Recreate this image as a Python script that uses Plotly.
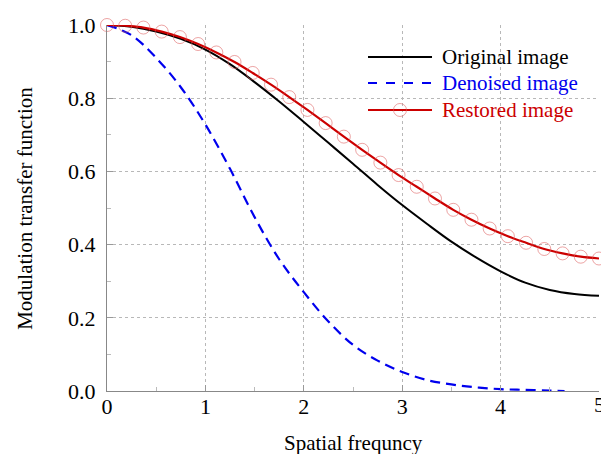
import plotly.graph_objects as go

# ---- data ----
x_grid = [0, 0.25, 0.5, 0.75, 1.0, 1.25, 1.5, 1.75, 2.0, 2.25, 2.5, 2.75,
          3.0, 3.25, 3.5, 3.75, 4.0, 4.25, 4.5, 4.75, 5.0]
original = [1.0, 0.995, 0.982, 0.962, 0.933, 0.893, 0.844, 0.791, 0.735, 0.678,
            0.621, 0.563, 0.508, 0.457, 0.408, 0.365, 0.327, 0.296, 0.276, 0.265, 0.26]

x_denoised = [0, 0.25, 0.5, 0.75, 1.0, 1.25, 1.5, 1.75, 2.0, 2.25, 2.5, 2.75,
              3.0, 3.25, 3.5, 3.75, 4.0, 4.25, 4.5, 4.65]
denoised = [1.0, 0.972, 0.91, 0.83, 0.728, 0.607, 0.475, 0.36, 0.27, 0.19,
            0.126, 0.083, 0.052, 0.03, 0.018, 0.01, 0.005, 0.003, 0.001, 0.0]

x_restored = [0.0, 0.185, 0.37, 0.556, 0.741, 0.926, 1.111, 1.296, 1.481, 1.667,
              1.852, 2.037, 2.222, 2.407, 2.593, 2.778, 2.963, 3.148, 3.333, 3.519,
              3.704, 3.889, 4.074, 4.259, 4.444, 4.63, 4.815, 5.0]
restored = [1.0, 0.998, 0.993, 0.982, 0.967, 0.948, 0.925, 0.899, 0.869, 0.837,
            0.803, 0.768, 0.732, 0.695, 0.659, 0.624, 0.590, 0.558, 0.526, 0.495,
            0.468, 0.444, 0.423, 0.405, 0.388, 0.376, 0.367, 0.362]

x_ticks = [0, 1, 2, 3, 4, 5]
y_ticks = [0.0, 0.2, 0.4, 0.6, 0.8, 1.0]
y_ticklabels = ["0.0", "0.2", "0.4", "0.6", "0.8", "1.0"]

series_names = ["Original image", "Denoised image", "Restored image"]
series_colors = ["#000000", "#0000ee", "#cc0000"]

FONT = "Liberation Serif, Times New Roman, serif"
MARKER_COLOR = "rgba(220,90,90,0.55)"

fig = go.Figure()
fig.add_trace(go.Scatter(
    x=x_grid, y=original, mode="lines",
    line=dict(color=series_colors[0], width=2, shape="spline"),
    name=series_names[0], showlegend=False))
fig.add_trace(go.Scatter(
    x=x_denoised, y=denoised, mode="lines",
    line=dict(color=series_colors[1], width=2.2, dash="10px,6px", shape="spline"),
    name=series_names[1], showlegend=False))
fig.add_trace(go.Scatter(
    x=x_restored, y=restored, mode="lines+markers",
    line=dict(color=series_colors[2], width=2.2, shape="spline"),
    marker=dict(symbol="circle-open", size=13, color=MARKER_COLOR,
                line=dict(width=1, color=MARKER_COLOR)),
    cliponaxis=False, name=series_names[2], showlegend=False))

# ---- legend drawn in paper coordinates (long line samples as in the reference) ----
leg_x0, leg_x1, leg_tx = 0.5305, 0.6606, 0.6768
leg_rows = [0.9126, 0.8415, 0.7678]
leg_dash = ["solid", "dash", "solid"]
shapes = []
annotations = []
for name, col, yy, dsh in zip(series_names, series_colors, leg_rows, leg_dash):
    shapes.append(dict(type="line", xref="paper", yref="paper", x0=leg_x0, x1=leg_x1,
                       y0=yy, y1=yy, line=dict(color=col, width=2, dash=dsh)))
    annotations.append(dict(xref="paper", yref="paper", x=leg_tx, y=yy, text=name,
                            showarrow=False, xanchor="left", yanchor="middle",
                            font=dict(family=FONT, size=21, color=col)))
# legend marker for restored
mx = (leg_x0 + leg_x1) / 2
shapes.append(dict(type="circle", xref="paper", yref="paper",
                   x0=mx - 6.5 / 492, x1=mx + 6.5 / 492,
                   y0=leg_rows[2] - 6.5 / 366, y1=leg_rows[2] + 6.5 / 366,
                   line=dict(color=MARKER_COLOR, width=1)))

# last x tick label (partly cut by the right edge in the reference)
annotations.append(dict(xref="x", yref="paper", x=x_ticks[-1], y=-0.037,
                        text=str(x_ticks[-1]), showarrow=False,
                        xanchor="center", yanchor="middle",
                        font=dict(family=FONT, size=22, color="black")))

# axis titles
annotations.append(dict(xref="paper", yref="paper", x=0.5, y=-0.142,
                        text="Spatial frequncy", showarrow=False,
                        xanchor="center", yanchor="middle",
                        font=dict(family=FONT, size=21, color="black")))
annotations.append(dict(xref="paper", yref="paper", x=-0.167, y=0.5,
                        text="Modulation transfer function", showarrow=False,
                        textangle=-90, xanchor="center", yanchor="middle",
                        font=dict(family=FONT, size=21, color="black")))

fig.update_layout(
    width=601, height=454,
    margin=dict(l=107, r=2, t=25, b=63),
    paper_bgcolor="white", plot_bgcolor="white",
    font=dict(family=FONT, size=22, color="black"),
    showlegend=False,
    shapes=shapes, annotations=annotations,
)
fig.update_xaxes(
    range=[0, 5], tickvals=x_ticks[:-1], ticks="inside", ticklen=6, tickcolor="#999",
    showline=True, linecolor="#888", linewidth=1, mirror=False, automargin=False,
    showgrid=True, gridcolor="#b8b8b8", griddash="dot", gridwidth=1, zeroline=False,
    minor=dict(dtick=0.5, ticks="inside", ticklen=4, tickcolor="#bbb", showgrid=False),
    tickfont=dict(size=22), ticklabelstandoff=-4,
)
fig.update_yaxes(
    range=[0, 1.0], tickvals=y_ticks, ticktext=y_ticklabels, ticks="inside", ticklen=6,
    tickcolor="#999", showline=True, linecolor="#888", linewidth=1, automargin=False,
    showgrid=True, gridcolor="#b8b8b8", griddash="dot", gridwidth=1, zeroline=False,
    minor=dict(dtick=0.1, ticks="inside", ticklen=4, tickcolor="#bbb", showgrid=False),
    tickfont=dict(size=22), ticklabelstandoff=6,
)

fig.write_html("out.html", config={"displayModeBar": False},
               post_script="document.body.style.margin='0';document.body.style.overflow='hidden';")
